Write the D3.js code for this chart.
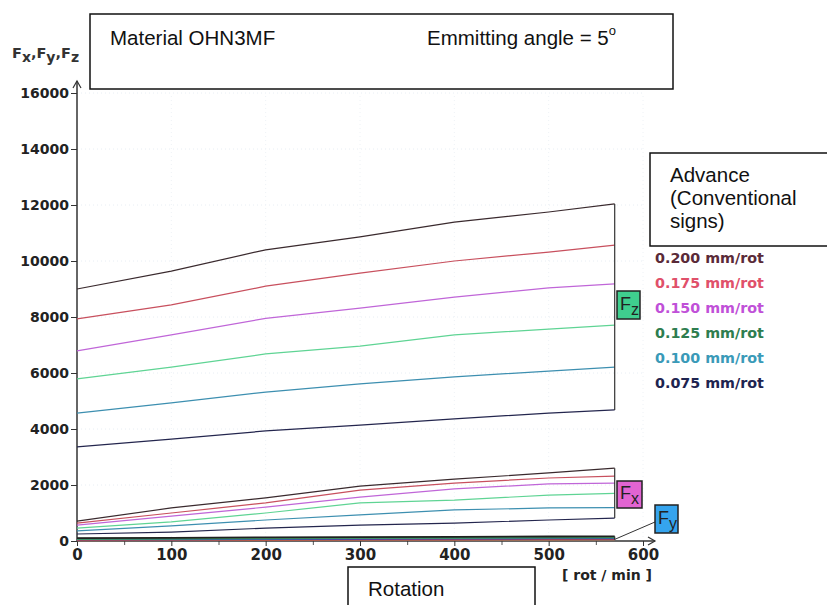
<!DOCTYPE html>
<html><head><meta charset="utf-8">
<script src="https://cdn.jsdelivr.net/npm/d3@7/dist/d3.min.js"></script>
<style>body{margin:0;background:#fff;} svg{display:block;}</style>
</head><body>
<svg id="c" width="827" height="605"></svg>
<script>
// ---- data ----
const rpm = [0, 100, 200, 300, 400, 500, 570];
const feeds = ["0.200", "0.175", "0.150", "0.125", "0.100", "0.075"];
const yTicks = [0, 2000, 4000, 6000, 8000, 10000, 12000, 14000, 16000];
const xTicks = [0, 100, 200, 300, 400, 500, 600];

const fz200 = [9000, 9640, 10400, 10860, 11390, 11750, 12040];
const fz175 = [7930, 8430, 9100, 9570, 10000, 10320, 10570];
const fz150 = [6790, 7360, 7950, 8320, 8710, 9040, 9180];
const fz125 = [5790, 6210, 6680, 6960, 7360, 7570, 7710];
const fz100 = [4570, 4930, 5320, 5610, 5860, 6070, 6210];
const fz075 = [3360, 3640, 3930, 4140, 4360, 4570, 4680];

const fx200 = [710, 1180, 1540, 1960, 2210, 2430, 2600];
const fx175 = [640, 1000, 1360, 1820, 2070, 2250, 2320];
const fx150 = [570, 890, 1210, 1570, 1860, 2040, 2070];
const fx125 = [460, 680, 1000, 1360, 1460, 1640, 1700];
const fx100 = [360, 540, 750, 930, 1110, 1180, 1190];
const fx075 = [250, 320, 460, 570, 640, 750, 820];

const fy200 = [100, 115, 130, 140, 150, 160, 165];
const fy175 = [85, 95, 110, 120, 130, 135, 140];
const fy150 = [70, 80, 90, 100, 108, 115, 120];
const fy125 = [55, 62, 72, 80, 86, 92, 95];
const fy100 = [40, 46, 52, 58, 63, 68, 70];
const fy075 = [25, 30, 34, 38, 42, 45, 48];

const fzSeries = [fz200, fz175, fz150, fz125, fz100, fz075];
const fxSeries = [fx200, fx175, fx150, fx125, fx100, fx075];
const fySeries = [fy200, fy175, fy150, fy125, fy100, fy075];

// ---- styles ----
const lineColors = ["#3a2a2e", "#c8505e", "#c066d8", "#5fd494", "#3d8fb0", "#24264e"];
const textColors = ["#5a2a38", "#e0506a", "#c050d8", "#2e7d4f", "#3a9ab8", "#1e2450"];
const fyColors = ["#b07050", "#c04040", "#3040c0", "#3a8a78", "#40a060", "#202020"];

const svg = d3.select("#c");
const x = d3.scaleLinear().domain([0, 600]).range([77, 643]);
const y = d3.scaleLinear().domain([0, 16000]).range([541, 93]);
const boldFont = "'DejaVu Sans', sans-serif";
const sansFont = "'Liberation Sans', Arial, sans-serif";

// faint grid
const grid = svg.append("g");
yTicks.slice(1).forEach(t => grid.append("line")
  .attr("x1", x(0)).attr("x2", x(600)).attr("y1", y(t)).attr("y2", y(t))
  .attr("stroke", "#e8eef4").attr("stroke-dasharray", "1,3"));
xTicks.slice(1).forEach(t => grid.append("line")
  .attr("x1", x(t)).attr("x2", x(t)).attr("y1", y(0)).attr("y2", y(16000))
  .attr("stroke", "#eef2f6").attr("stroke-dasharray", "1,3"));

// axes
const yAxis = d3.axisLeft(y).tickValues(yTicks).tickSize(6).tickPadding(2).tickFormat(d3.format("d"));
const gy = svg.append("g").attr("transform", `translate(${x(0)},0)`).call(yAxis);
gy.select(".domain").remove();
gy.selectAll("text").attr("font-family", boldFont).attr("font-weight", "bold")
  .attr("font-size", 14).attr("fill", "#222");
gy.selectAll("line").attr("stroke", "#333");

const xAxis = d3.axisBottom(x).tickValues(xTicks).tickSize(5).tickPadding(3).tickFormat(d3.format("d"));
const gx = svg.append("g").attr("transform", `translate(0,${y(0)})`).call(xAxis);
gx.select(".domain").remove();
gx.selectAll("text").attr("font-family", boldFont).attr("font-weight", "bold")
  .attr("font-size", 15).attr("fill", "#222");
gx.selectAll("line").attr("stroke", "#333");
const minor = d3.axisBottom(x).tickValues([50, 150, 250, 350, 450, 550]).tickSize(4).tickFormat("");
const gm = svg.append("g").attr("transform", `translate(0,${y(0)})`).call(minor);
gm.select(".domain").remove();
gm.selectAll("line").attr("stroke", "#555");

// axis lines with arrows
svg.append("line").attr("x1", x(0)).attr("x2", x(0)).attr("y1", y(0)).attr("y2", 81)
  .attr("stroke", "#333").attr("stroke-width", 1.5);
svg.append("path").attr("d", `M${x(0) - 4},88 L${x(0)},81 L${x(0) + 4},88`)
  .attr("fill", "none").attr("stroke", "#333").attr("stroke-width", 1.2);
svg.append("line").attr("x1", x(0)).attr("x2", 655).attr("y1", y(0)).attr("y2", y(0))
  .attr("stroke", "#333").attr("stroke-width", 1.5);
svg.append("path").attr("d", `M648,${y(0) - 4} L655,${y(0)} L648,${y(0) + 4}`)
  .attr("fill", "none").attr("stroke", "#333").attr("stroke-width", 1.2);

// series lines
const line = d3.line().x((d, i) => x(rpm[i])).y(d => y(d));
function drawGroup(series, colors, width) {
  const g = svg.append("g");
  series.forEach((s, i) => g.append("path").attr("d", line(s))
    .attr("fill", "none").attr("stroke", colors[i]).attr("stroke-width", width));
  const xe = x(rpm[rpm.length - 1]);
  g.append("line").attr("x1", xe).attr("x2", xe)
    .attr("y1", y(series[0][series[0].length - 1]))
    .attr("y2", y(series[series.length - 1][series[series.length - 1].length - 1]))
    .attr("stroke", "#333").attr("stroke-width", 1.2);
  return g;
}
drawGroup(fySeries.slice().reverse(), fyColors, 1.8);
drawGroup(fzSeries, lineColors, 1.2);
drawGroup(fxSeries, lineColors, 1.2);

// F boxes
function fBox(x0, y0, w, h, fill, sub) {
  svg.append("rect").attr("x", x0).attr("y", y0).attr("width", w).attr("height", h)
    .attr("fill", fill).attr("stroke", "#222").attr("stroke-width", 1.5);
  const t = svg.append("text").attr("x", x0 + 3).attr("y", y0 + h - 9)
    .attr("font-family", sansFont).attr("font-size", 18).attr("fill", "#222");
  t.append("tspan").text("F");
  t.append("tspan").attr("dy", 5).attr("font-size", 16).text(sub);
}
fBox(617, 291, 23, 28, "#3fce8e", "z");
fBox(617, 481, 25, 27, "#e264d2", "x");
svg.append("line").attr("x1", x(570)).attr("y1", y(fy200[6]) + 3).attr("x2", 655).attr("y2", 522)
  .attr("stroke", "#333").attr("stroke-width", 1);
fBox(655, 505, 23, 28, "#35a4ee", "y");

// y axis label
const yl = svg.append("text").attr("x", 12).attr("y", 58)
  .attr("font-family", boldFont).attr("font-weight", "bold").attr("font-size", 14.5).attr("fill", "#333");
["x", "y", "z"].forEach((s, i) => {
  yl.append("tspan").attr("dy", i === 0 ? 0 : -4).text(i === 0 ? "F" : ",F");
  yl.append("tspan").attr("dy", 4).attr("font-size", 14).text(s);
});

// x unit
svg.append("text").attr("x", 607).attr("y", 580).attr("text-anchor", "middle")
  .attr("font-family", boldFont).attr("font-weight", "bold").attr("font-size", 14)
  .attr("fill", "#222").text("[ rot / min ]");

// title box
svg.append("rect").attr("x", 90).attr("y", 14).attr("width", 583).attr("height", 75)
  .attr("fill", "#fff").attr("stroke", "#111").attr("stroke-width", 1.5);
svg.append("text").attr("x", 110).attr("y", 45).attr("font-family", sansFont).attr("font-size", 20.5)
  .attr("fill", "#111").text("Material OHN3MF");
const et = svg.append("text").attr("x", 427).attr("y", 45).attr("font-family", sansFont)
  .attr("font-size", 20.5).attr("fill", "#111");
et.append("tspan").text("Emmitting angle = 5");
et.append("tspan").attr("dy", -10).attr("font-size", 13).text("o");

// legend box
svg.append("rect").attr("x", 650).attr("y", 153).attr("width", 190).attr("height", 93)
  .attr("fill", "#fff").attr("stroke", "#111").attr("stroke-width", 1.5);
["Advance", "(Conventional", "signs)"].forEach((s, i) =>
  svg.append("text").attr("x", 670).attr("y", 182 + i * 23).attr("font-family", sansFont)
    .attr("font-size", 20.5).attr("fill", "#111").text(s));
feeds.forEach((f, i) =>
  svg.append("text").attr("x", 655).attr("y", 263 + i * 25).attr("font-family", boldFont)
    .attr("font-weight", "bold").attr("font-size", 14.3).attr("fill", textColors[i])
    .text(f + " mm/rot"));

// rotation box
svg.append("rect").attr("x", 348).attr("y", 567).attr("width", 187).attr("height", 60)
  .attr("fill", "#fff").attr("stroke", "#111").attr("stroke-width", 1.5);
svg.append("text").attr("x", 368).attr("y", 596).attr("font-family", sansFont).attr("font-size", 20.5)
  .attr("fill", "#111").text("Rotation");
</script>
</body></html>
